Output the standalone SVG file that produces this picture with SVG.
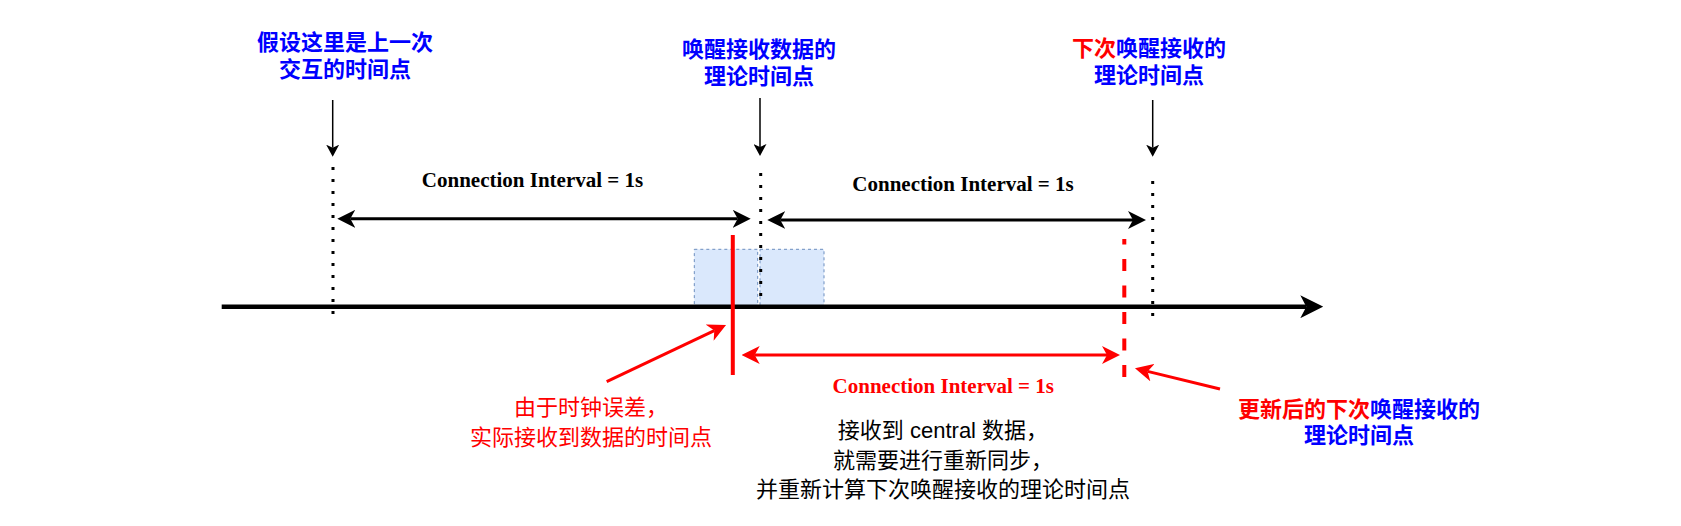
<svg xmlns="http://www.w3.org/2000/svg" width="1681" height="526" viewBox="0 0 1681 526">
<style>
.lbl{font-family:"Noto Sans CJK SC",sans-serif;font-size:22px;font-weight:bold;text-anchor:middle}
.blue{fill:#0000ff}
.red{fill:#ff0000}
.note{font-family:"Liberation Sans","Noto Sans CJK SC",sans-serif;font-size:22px;text-anchor:middle}
.ci{font-family:"Liberation Serif",serif;font-size:21px;font-weight:bold;text-anchor:middle}
.dot{stroke:#000;stroke-width:3;stroke-dasharray:3 9;fill:none}
.box{fill:#dae8fc;stroke:#6c8ebf;stroke-width:1;stroke-dasharray:3 3}
.thin{stroke:#000;stroke-width:1.5;fill:none}
.blk{stroke:#000;stroke-width:3;fill:none}
.rl{stroke:#ff0000;stroke-width:3;fill:none}
</style>
<defs>
<marker id="ah" markerUnits="userSpaceOnUse" markerWidth="18" markerHeight="18" refX="5" refY="9" orient="auto-start-reverse"><path d="M0,0 L18,9 L0,18 L5,9 Z" fill="#000"/></marker>
<marker id="ahr" markerUnits="userSpaceOnUse" markerWidth="18" markerHeight="18" refX="5" refY="9" orient="auto-start-reverse"><path d="M0,0 L18,9 L0,18 L5,9 Z" fill="#ff0000"/></marker>
<marker id="ahs" markerUnits="userSpaceOnUse" markerWidth="12" markerHeight="13" refX="3" refY="6.5" orient="auto"><path d="M0,0 L12,6.5 L0,13 L3,6.5 Z" fill="#000"/></marker>
<marker id="ahb" markerUnits="userSpaceOnUse" markerWidth="23" markerHeight="23" refX="6" refY="11.5" orient="auto"><path d="M0,0 L23,11.5 L0,23 L6,11.5 Z" fill="#000"/></marker>
</defs>

<g id="window-boxes">
<rect class="box" x="694.3" y="249.3" width="63.4" height="57"/>
<rect class="box" x="760" y="249.3" width="64" height="57"/>
</g>

<g id="label-last">
<text class="lbl blue" x="345" y="50">假设这里是上一次<tspan x="345" dy="27">交互的时间点</tspan></text>
</g>
<g id="label-wake">
<text class="lbl blue" x="759" y="56.5">唤醒接收数据的<tspan x="759" dy="27">理论时间点</tspan></text>
</g>
<g id="label-next">
<text class="lbl" x="1149" y="56"><tspan class="red">下次</tspan><tspan class="blue">唤醒接收的</tspan><tspan class="blue" x="1149" dy="27">理论时间点</tspan></text>
</g>
<g id="label-actual">
<text class="note red" x="591" y="415">由于时钟误差，<tspan x="591" dy="29.5">实际接收到数据的时间点</tspan></text>
</g>
<g id="label-resync">
<text class="note" x="943" y="438" fill="#000">接收到 central 数据，<tspan x="943" dy="30">就需要进行重新同步，</tspan><tspan x="943" dy="29">并重新计算下次唤醒接收的理论时间点</tspan></text>
</g>
<g id="label-updated">
<text class="lbl" x="1359" y="417"><tspan class="red">更新后的下次</tspan><tspan class="blue">唤醒接收的</tspan><tspan class="blue" x="1359" dy="26">理论时间点</tspan></text>
</g>
<g id="interval-texts">
<text class="ci" x="532.5" y="187" fill="#000">Connection Interval = 1s</text>
<text class="ci" x="963" y="190.7" fill="#000">Connection Interval = 1s</text>
<text class="ci" x="943.3" y="392.7" fill="#ff0000">Connection Interval = 1s</text>
</g>

<g id="connectors">
<line class="dot" x1="333" y1="167" x2="333" y2="315"/>
<line class="dot" x1="760.7" y1="173" x2="760.7" y2="305"/>
<line class="dot" x1="1152.7" y1="181" x2="1152.7" y2="317"/>
<line class="thin" x1="332.7" y1="100" x2="332.7" y2="147.7" marker-end="url(#ahs)"/>
<line class="thin" x1="760" y1="98" x2="760" y2="147" marker-end="url(#ahs)"/>
<line class="thin" x1="1152.7" y1="100" x2="1152.7" y2="147.7" marker-end="url(#ahs)"/>
<line class="blk" x1="350.3" y1="218.8" x2="737.7" y2="218.8" marker-start="url(#ah)" marker-end="url(#ah)"/>
<line class="blk" x1="780.3" y1="220" x2="1133" y2="220" marker-start="url(#ah)" marker-end="url(#ah)"/>
<line x1="221.7" y1="306.7" x2="1306.3" y2="306.7" stroke="#000" stroke-width="4.5" marker-end="url(#ahb)"/>
<line x1="732.8" y1="235" x2="732.8" y2="375" stroke="#ff0000" stroke-width="4"/>
<line x1="1124.3" y1="239" x2="1124.3" y2="380" stroke="#ff0000" stroke-width="4" stroke-dasharray="12 14.5" stroke-dashoffset="6.5"/>
<line class="rl" x1="754.7" y1="355" x2="1107" y2="355" marker-start="url(#ahr)" marker-end="url(#ahr)"/>
<line class="rl" x1="606.7" y1="381.7" x2="714.3" y2="330.6" marker-end="url(#ahr)"/>
<line class="rl" x1="1220" y1="389" x2="1147.6" y2="371.4" marker-end="url(#ahr)"/>
</g>
</svg>
